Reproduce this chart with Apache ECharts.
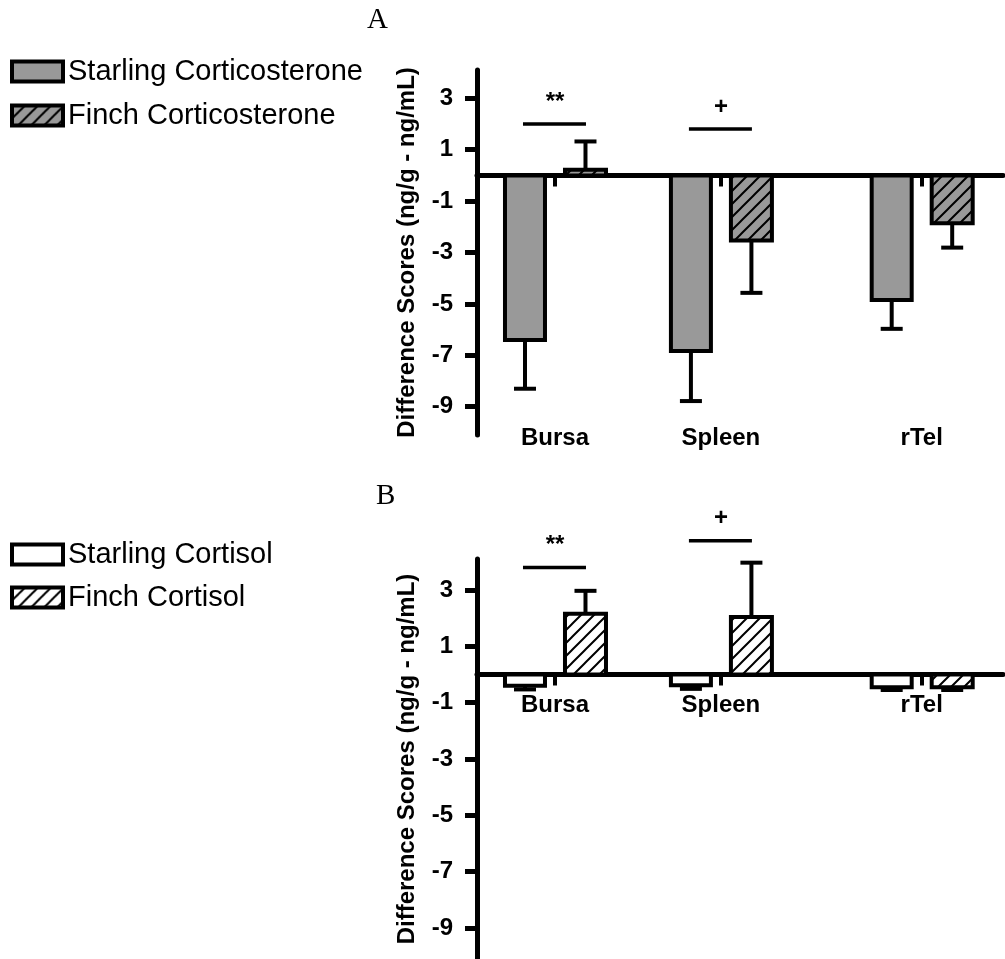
<!DOCTYPE html>
<html>
<head>
<meta charset="utf-8">
<script src="https://cdn.jsdelivr.net/npm/echarts@6/dist/echarts.min.js"></script>
<style>
  html, body { margin: 0; padding: 0; background: #fff; }
  #chart { width: 1005px; height: 959px; }
</style>
</head>
<body>
<div id="chart"></div>
<script>
const FONT = "'Liberation Sans', Arial, sans-serif";
const GRAY = "#999999";

const tissues = ["Bursa", "Spleen", "rTel"];
const tissueX = [1, 2, 3.21];
const yTicks = [-9, -7, -5, -3, -1, 1, 3];

// panel A - corticosterone
const starlingCort = [-6.4, -6.83, -4.85];
const starlingCortSem = [1.9, 1.95, 1.12];
const finchCort = [0.22, -2.53, -1.86];
const finchCortSem = [1.1, 2.04, 0.95];

// panel B - cortisol
const starlingCortisol = [-0.4, -0.38, -0.45];
const starlingCortisolSem = [0.13, 0.13, 0.1];
const finchCortisol = [2.16, 2.04, -0.45];
const finchCortisolSem = [0.81, 1.93, 0.1];

// significance marks
const sigText = ["**", "+"];
const sigTissue = [0, 1];
const sigYA = [2.0, 1.8];
const sigYB = [3.8, 4.75];

function hatch(bg) {
  const c = document.createElement("canvas");
  c.width = 13;
  c.height = 13;
  const ctx = c.getContext("2d");
  ctx.fillStyle = bg;
  ctx.fillRect(0, 0, 13, 13);
  ctx.strokeStyle = "#000";
  ctx.lineWidth = 2;
  ctx.beginPath();
  ctx.moveTo(-2, 15); ctx.lineTo(15, -2);
  ctx.moveTo(-2, 2); ctx.lineTo(2, -2);
  ctx.moveTo(11, 15); ctx.lineTo(15, 11);
  ctx.stroke();
  return { image: c, repeat: "repeat" };
}

const grayHatch = hatch(GRAY);
const whiteHatch = hatch("#fff");

// bar + one-sided error bar, drawn through the axis scale
function barItem(offset, width, fill) {
  return (params, api) => {
    const v = api.value(1);
    const sem = api.value(2);
    const base = api.coord([api.value(0), 0]);
    const top = api.coord([api.value(0), v]);
    const end = api.coord([api.value(0), v + (v < 0 ? -sem : sem)]);
    const x0 = base[0] + offset;
    const mid = x0 + width / 2;
    const line = { stroke: "#000", lineWidth: 4 };
    return {
      type: "group",
      children: [
        { type: "line", shape: { x1: mid, y1: top[1], x2: mid, y2: end[1] }, style: line },
        { type: "line", shape: { x1: mid - 11, y1: end[1], x2: mid + 11, y2: end[1] }, style: line },
        {
          type: "rect",
          shape: { x: x0, y: Math.min(base[1], top[1]), width: width, height: Math.abs(top[1] - base[1]) },
          style: { fill: fill, stroke: "#000", lineWidth: 4 }
        }
      ]
    };
  };
}

function sigItem(params, api) {
  const p = api.coord([api.value(0), api.value(1)]);
  return {
    type: "group",
    children: [
      { type: "line", shape: { x1: p[0] - 32, y1: p[1], x2: p[0] + 31, y2: p[1] }, style: { stroke: "#000", lineWidth: 3.5 } },
      {
        type: "text", x: p[0], y: p[1] - 22,
        style: { text: sigText[params.dataIndex], fontFamily: FONT, fontWeight: "bold", fontSize: 24, fill: "#000", align: "center", verticalAlign: "middle" }
      }
    ]
  };
}

const rows = (xs, vals, sems) => xs.map((x, i) => [x, vals[i], sems[i]]);
const tissueName = (v) => tissues[tissueX.findIndex((x) => Math.abs(x - v) < 1e-6)] || "";

function yAxisCfg(gridIndex) {
  return {
    type: "value", gridIndex, min: -10.1, max: 4.1,
    name: "Difference Scores (ng/g - ng/mL)", nameLocation: "middle", nameGap: 58,
    nameTextStyle: { fontFamily: FONT, fontWeight: "bold", fontSize: 24, color: "#000" },
    axisLine: { show: true, onZero: false, lineStyle: { color: "#000", width: 5 } },
    axisTick: { show: true, length: 12, customValues: yTicks, lineStyle: { color: "#000", width: 5 } },
    axisLabel: { customValues: yTicks, fontFamily: FONT, fontWeight: "bold", fontSize: 24, color: "#000", margin: 24 },
    splitLine: { show: false }
  };
}

const xRange = { min: 0.53, max: 3.7 };
const axisFont = { fontFamily: FONT, fontWeight: "bold", fontSize: 24, color: "#000" };

// zero line with the small category ticks
function zeroAxis(gridIndex) {
  return {
    type: "value", gridIndex, ...xRange,
    axisLine: { onZero: true, lineStyle: { color: "#000", width: 5 } },
    axisTick: { customValues: tissueX, length: 11, lineStyle: { color: "#000", width: 4 } },
    axisLabel: { show: false },
    splitLine: { show: false }
  };
}

// label-only axis, labels pulled up inside the grid
function labelAxis(gridIndex, margin) {
  return {
    type: "value", gridIndex, position: "bottom", ...xRange,
    axisLine: { show: false, onZero: false },
    axisTick: { show: false },
    axisLabel: { customValues: tissueX, formatter: tissueName, margin: margin, ...axisFont },
    splitLine: { show: false }
  };
}

const legendText = { fontFamily: FONT, fontSize: 29, color: "#000" };
const titleText = { fontFamily: "'Liberation Serif', serif", fontWeight: "normal", fontSize: 29, color: "#000" };

const chart = echarts.init(document.getElementById("chart"));
chart.setOption({
  animation: false,
  backgroundColor: "#fff",
  title: [
    { text: "A", left: 367, top: 6, padding: 0, textStyle: titleText },
    { text: "B", left: 376, top: 482, padding: 0, textStyle: titleText }
  ],
  legend: [
    {
      orient: "vertical", left: 10, top: 57, padding: 0, itemWidth: 51, itemHeight: 20, itemGap: 15, icon: "rect",
      textStyle: legendText,
      data: [
        { name: "Starling Corticosterone", itemStyle: { color: GRAY, borderColor: "#000", borderWidth: 4 } },
        { name: "Finch Corticosterone", itemStyle: { color: grayHatch, borderColor: "#000", borderWidth: 4 } }
      ]
    },
    {
      orient: "vertical", left: 10, top: 540, padding: 0, itemWidth: 51, itemHeight: 20, itemGap: 14, icon: "rect",
      textStyle: legendText,
      data: [
        { name: "Starling Cortisol", itemStyle: { color: "#fff", borderColor: "#000", borderWidth: 4 } },
        { name: "Finch Cortisol", itemStyle: { color: whiteHatch, borderColor: "#000", borderWidth: 4 } }
      ]
    }
  ],
  grid: [
    { left: 477, right: 2, top: 70, height: 365, outerBoundsMode: "none" },
    { left: 477, right: 2, top: 559, height: 400, outerBoundsMode: "none" }
  ],
  xAxis: [zeroAxis(0), labelAxis(0, -9), zeroAxis(1), labelAxis(1, -266)],
  yAxis: [yAxisCfg(0), yAxisCfg(1)],
  series: [
    {
      name: "Starling Corticosterone", type: "custom", xAxisIndex: 0, yAxisIndex: 0,
      itemStyle: { color: GRAY }, renderItem: barItem(-50, 40, GRAY),
      data: rows(tissueX, starlingCort, starlingCortSem), clip: false
    },
    {
      name: "Finch Corticosterone", type: "custom", xAxisIndex: 0, yAxisIndex: 0,
      itemStyle: { color: GRAY }, renderItem: barItem(10, 41, grayHatch),
      data: rows(tissueX, finchCort, finchCortSem), clip: false
    },
    {
      type: "custom", xAxisIndex: 0, yAxisIndex: 0, renderItem: sigItem, clip: false,
      data: sigTissue.map((t, i) => [tissueX[t], sigYA[i]])
    },
    {
      name: "Starling Cortisol", type: "custom", xAxisIndex: 2, yAxisIndex: 1,
      itemStyle: { color: "#fff" }, renderItem: barItem(-50, 40, "#fff"),
      data: rows(tissueX, starlingCortisol, starlingCortisolSem), clip: false
    },
    {
      name: "Finch Cortisol", type: "custom", xAxisIndex: 2, yAxisIndex: 1,
      itemStyle: { color: "#fff" }, renderItem: barItem(10, 41, whiteHatch),
      data: rows(tissueX, finchCortisol, finchCortisolSem), clip: false
    },
    {
      type: "custom", xAxisIndex: 2, yAxisIndex: 1, renderItem: sigItem, clip: false,
      data: sigTissue.map((t, i) => [tissueX[t], sigYB[i]])
    }
  ]
});
</script>
</body>
</html>
